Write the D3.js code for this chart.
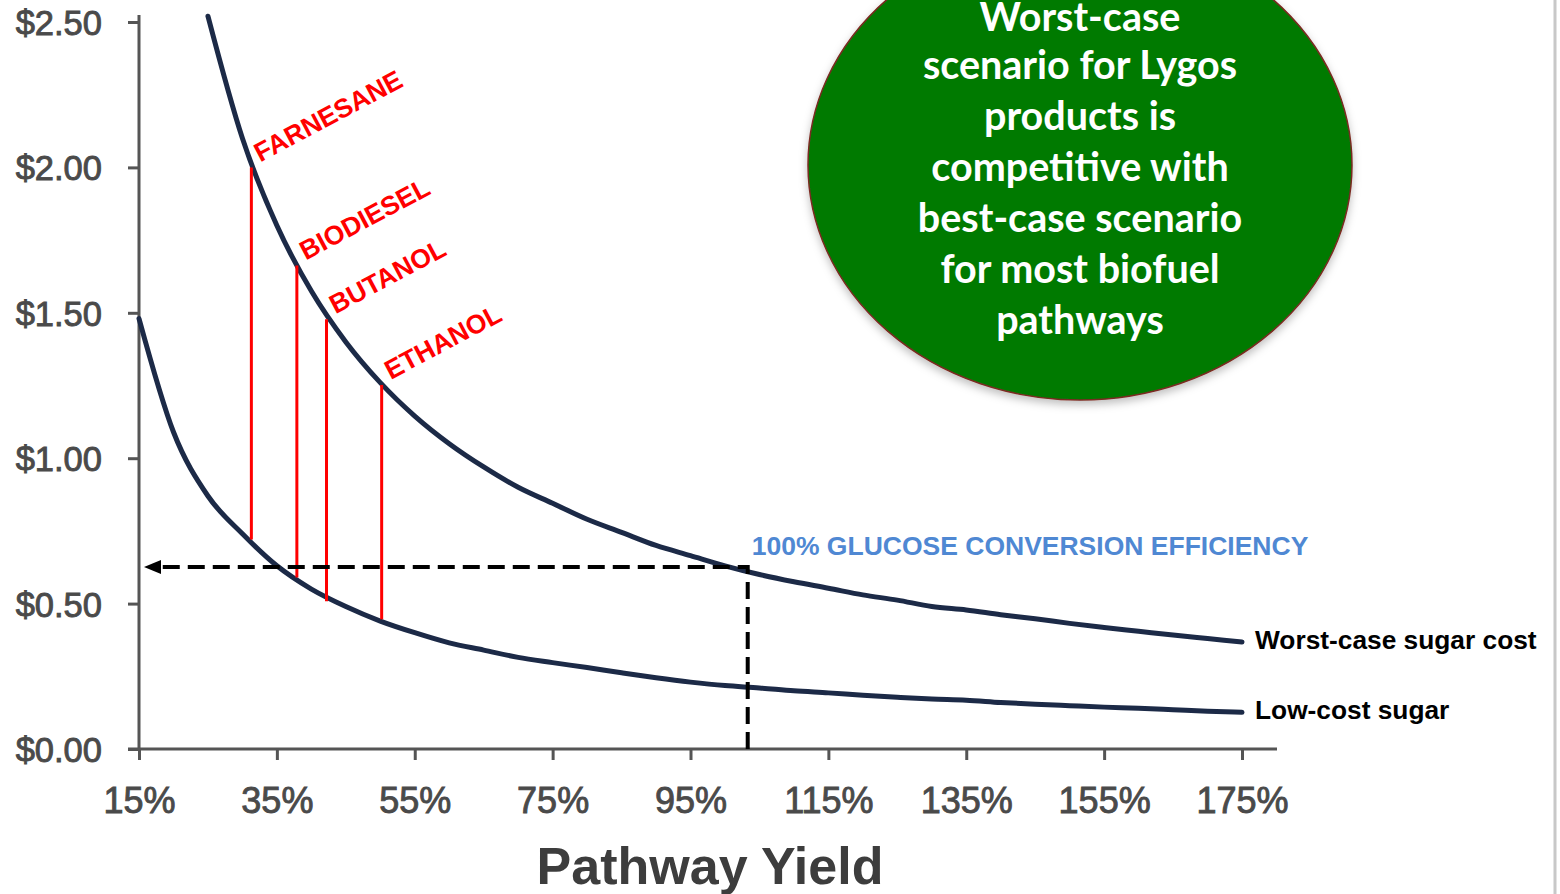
<!DOCTYPE html>
<html><head><meta charset="utf-8">
<script src="https://cdn.jsdelivr.net/npm/d3@7"></script>
<style>html,body{margin:0;padding:0;background:#fff;overflow:hidden}</style>
</head><body><svg id="chart" width="1560" height="894"></svg>
<script>
// ---- data ----
const worstYield = [25,30,35,40,45,50,55,60,65,70,75,80,85,90,95,100,105,110,115,120,125,130,135,140,145,150,155,160,165,170,175];
const worstCost  = [2.52,2.10,1.80,1.575,1.40,1.26,1.145,1.05,0.97,0.90,0.845,0.79,0.745,0.70,0.665,0.63,0.60,0.575,0.553,0.53,0.512,0.49,0.478,0.462,0.448,0.432,0.418,0.405,0.392,0.38,0.368];
const lowYield = [15,20,25,30,35,40,45,50,55,60,65,70,75,80,85,90,95,100,105,110,115,120,125,130,135,140,145,150,155,160,165,170,175];
const lowCost  = [1.48,1.09,0.87,0.74,0.63,0.55,0.49,0.44,0.40,0.365,0.34,0.315,0.297,0.28,0.262,0.245,0.23,0.218,0.21,0.20,0.193,0.185,0.178,0.172,0.168,0.16,0.154,0.149,0.144,0.14,0.135,0.13,0.126];
const seriesLabels = ["Worst-case sugar cost","Low-cost sugar"];
const yTicks = [0,0.5,1,1.5,2,2.5];
const xTicks = [15,35,55,75,95,115,135,155,175];
const products = ["FARNESANE","BIODIESEL","BUTANOL","ETHANOL"];
const productYield = [31.3,37.9,42.2,50.2];
const productHigh  = [2.0,1.663,1.478,1.252];
const productLow   = [0.72,0.59,0.508,0.446];
const glucoseYield = 103.3, glucoseCost = 0.626;
const glucoseLabel = "100% GLUCOSE CONVERSION EFFICIENCY";
const xTitle = "Pathway Yield";
const calloutLines = ["Worst-case","scenario for Lygos","products is","competitive with","best-case scenario","for most biofuel","pathways"];

// ---- scales ----
const svg = d3.select("#chart");
const x = d3.scaleLinear().domain([15,175]).range([139,1242]);
const y = d3.scaleLinear().domain([0,2.5]).range([749,22]);
const AX = "#555555";
const SANS = "Liberation Sans, Arial, sans-serif";

// right border
svg.append("line").attr("x1",1555).attr("x2",1555).attr("y1",0).attr("y2",894)
  .attr("stroke","#c8c8c8").attr("stroke-width",3);

// axes
const yAxis = svg.append("g").attr("transform",`translate(${x(15)},0)`)
  .call(d3.axisLeft(y).tickValues(yTicks).tickSize(11).tickPadding(26)
    .tickFormat(d=>"$"+d.toFixed(2)));
yAxis.select(".domain").remove();
yAxis.selectAll("line").attr("stroke",AX).attr("stroke-width",3);
yAxis.selectAll("text").attr("font-family",SANS)
  .attr("font-size",34.5).attr("fill","#4a4a4a").attr("stroke","#4a4a4a").attr("stroke-width",0.9)
  .attr("dy","0.36em");

const xAxis = svg.append("g").attr("transform",`translate(0,${y(0)})`)
  .call(d3.axisBottom(x).tickValues(xTicks).tickSize(11).tickPadding(31)
    .tickFormat(d=>d+"%"));
xAxis.select(".domain").remove();
xAxis.selectAll("line").attr("stroke",AX).attr("stroke-width",3);
xAxis.selectAll("text").attr("font-family",SANS)
  .attr("font-size",36).attr("fill","#4a4a4a").attr("stroke","#4a4a4a").attr("stroke-width",0.9)
  .attr("dy","0.62em");

svg.append("line").attr("x1",x(15)).attr("x2",x(15)).attr("y1",15).attr("y2",y(0)+1.5)
  .attr("stroke",AX).attr("stroke-width",3);
svg.append("line").attr("x1",x(15)-11).attr("x2",1277).attr("y1",y(0)).attr("y2",y(0))
  .attr("stroke",AX).attr("stroke-width",3);

// curves
const line = d3.line().curve(d3.curveMonotoneX);
const worstPts = worstYield.map((v,i)=>[x(v),y(worstCost[i])]);
const lowPts = lowYield.map((v,i)=>[x(v),y(lowCost[i])]);
[worstPts,lowPts].forEach(p=>{
  svg.append("path").attr("d",line(p)).attr("fill","none")
    .attr("stroke","#1c2a47").attr("stroke-width",5).attr("stroke-linecap","round");
});

// product lines
products.forEach((p,i)=>{
  const px = x(productYield[i]);
  svg.append("line").attr("x1",px).attr("x2",px)
    .attr("y1",y(productHigh[i])).attr("y2",y(productLow[i]))
    .attr("stroke","#ff0000").attr("stroke-width",3);
  const tx = px+9, ty = y(productHigh[i])-5;
  svg.append("text").attr("transform",`translate(${tx},${ty}) rotate(-28)`)
    .attr("font-family",SANS).attr("font-weight","bold")
    .attr("font-size",26.5).attr("fill","#ff0000").text(p);
});

// dashed glucose line
const gx = x(glucoseYield), gy = y(glucoseCost);
svg.append("path")
  .attr("d",`M${gx},${y(0)} L${gx},${gy} L${x(15)+18},${gy}`)
  .attr("fill","none").attr("stroke","#000").attr("stroke-width",4)
  .attr("stroke-dasharray","17,8");
svg.append("path")
  .attr("d",`M${x(15)+5},${gy} L${x(15)+22},${gy-7} L${x(15)+22},${gy+7} Z`)
  .attr("fill","#000");
svg.append("text").attr("x",gx+4).attr("y",gy-12)
  .attr("font-family",SANS).attr("font-weight","bold")
  .attr("font-size",26.5).attr("fill","#4f88d3").text(glucoseLabel);

// series labels
svg.append("text").attr("x",x(175)+13).attr("y",y(worstCost[worstCost.length-1])+7)
  .attr("font-family",SANS).attr("font-weight","bold")
  .attr("font-size",26.3).attr("fill","#000").text(seriesLabels[0]);
svg.append("text").attr("x",x(175)+13).attr("y",y(lowCost[lowCost.length-1])+7)
  .attr("font-family",SANS).attr("font-weight","bold")
  .attr("font-size",26.3).attr("fill","#000").text(seriesLabels[1]);

// x title
svg.append("text").attr("x",710).attr("y",884).attr("text-anchor","middle")
  .attr("font-family",SANS).attr("font-weight","bold")
  .attr("font-size",52).attr("fill","#3d3d3d").text(xTitle);

// callout
const defs = svg.append("defs");
const f = defs.append("filter").attr("id","sh").attr("x","-20%").attr("y","-20%").attr("width","140%").attr("height","140%");
f.append("feDropShadow").attr("dx",0).attr("dy",4).attr("stdDeviation",4).attr("flood-color","#000").attr("flood-opacity",0.25);
svg.append("ellipse").attr("cx",1080).attr("cy",165).attr("rx",272).attr("ry",235)
  .attr("fill","#067a06").attr("stroke","#7a2a20").attr("stroke-width",1.5)
  .attr("filter","url(#sh)");
calloutLines.forEach((t,i)=>{
  svg.append("text").attr("x",1080).attr("y",i===0 ? 31 : 28+51*i).attr("text-anchor","middle")
    .attr("font-family","Lato, 'Open Sans', sans-serif").attr("font-weight","bold")
    .attr("font-size",39.5).attr("fill","#fff").text(t);
});
</script></body></html>
